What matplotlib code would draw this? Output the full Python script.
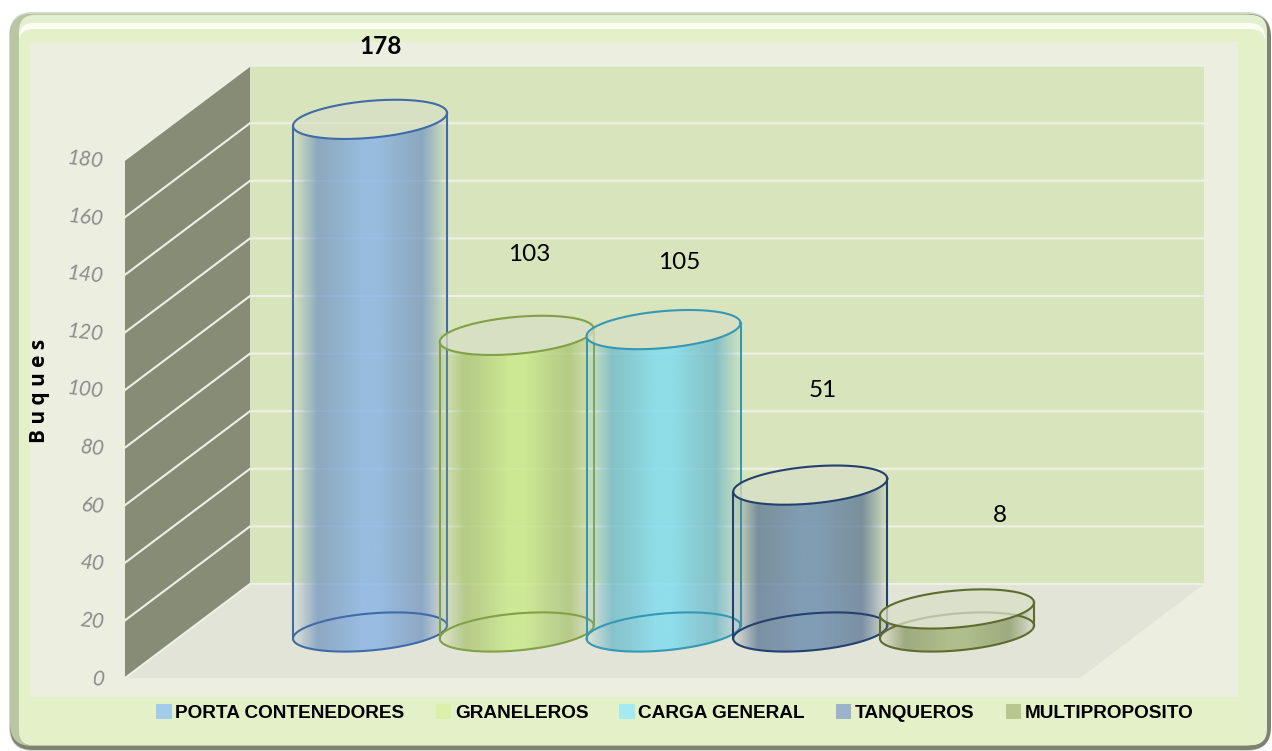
import numpy as np
import matplotlib
matplotlib.use("Agg")
import matplotlib.pyplot as plt
from matplotlib.patches import FancyBboxPatch, Polygon, Rectangle, Patch, PathPatch
from matplotlib.path import Path
from matplotlib.colors import to_rgb

# ---------- data ----------
categories = ["PORTA CONTENEDORES", "GRANELEROS", "CARGA GENERAL", "TANQUEROS", "MULTIPROPOSITO"]
values = [178, 103, 105, 51, 8]
label_bold = [True, False, False, False, False]
y_ticks = [0, 20, 40, 60, 80, 100, 120, 140, 160, 180]

# ---------- styles ----------
body_colors = ["#8CB5E5", "#CAE98B", "#82DCF0", "#7090B0", "#A6B87C"]
line_colors = ["#3F6CA8", "#82A045", "#3598B4", "#24406E", "#5E6B2E"]
legend_colors = ["#A3CBEA", "#DDF0A8", "#A3EAF2", "#9DB2CB", "#B7C78F"]
label_offsets = [(11, 73), (12, 81), (16, 67), (13, 95), (43, 93)]

W, H = 1272, 751
PX_PER_UNIT = 2.88
fig = plt.figure(figsize=(W / 100, H / 100), dpi=100, facecolor="white")


def fig_rect(x0, y_top, x1, y_bottom):
    return [x0 / W, 1 - y_bottom / H, (x1 - x0) / W, (y_bottom - y_top) / H]


# ---------- frame and walls (pixel-space axes) ----------
bg = fig.add_axes([0, 0, 1, 1], zorder=0)
bg.set_xlim(0, W)
bg.set_ylim(H, 0)
bg.axis("off")


def rrect(x0, y0, x1, y1, r, color, z):
    bg.add_patch(FancyBboxPatch((x0 + r, y0 + r), x1 - x0 - 2 * r, y1 - y0 - 2 * r,
                                boxstyle=f"round,pad={r},rounding_size={r}",
                                fc=color, ec="none", zorder=z))


rrect(9, 12, 1271, 751, 24, "#D5D8CC", 1)
rrect(10, 14, 1271, 750, 23, "#7E8272", 1.1)
rrect(10, 14, 1267, 746, 22, "#BAC5A2", 1.2)
rrect(19, 15, 1267, 745, 16, "#E4EFD0", 1.3)
rrect(19, 23, 1265, 745, 15, "#FBFDF3", 1.4)
rrect(19, 29, 1265, 745, 14, "#E3F0C8", 1.5)

bg.add_patch(Rectangle((30, 42), 1208, 655, fc="#ECEFDF", ec="none", zorder=2))
BACK_L, BACK_R, BACK_FLOOR = 250, 1204, 584
FRONT_L, FRONT_R, FRONT_FLOOR = 125, 1080, 678
DEPTH_DY = FRONT_FLOOR - BACK_FLOOR
BACK_TOP = BACK_FLOOR - 180 * PX_PER_UNIT
bg.add_patch(Rectangle((BACK_L, BACK_TOP), BACK_R - BACK_L, BACK_FLOOR - BACK_TOP,
                       fc="#D8E4BC", ec="none", zorder=3))
bg.add_patch(Polygon([(BACK_L, BACK_FLOOR), (BACK_R, BACK_FLOOR), (FRONT_R, FRONT_FLOOR), (FRONT_L, FRONT_FLOOR)],
                     fc="#E1E4D6", ec="none", zorder=3))
bg.add_patch(Polygon([(FRONT_L, BACK_TOP + DEPTH_DY), (BACK_L, BACK_TOP), (BACK_L, BACK_FLOOR), (FRONT_L, FRONT_FLOOR)],
                     fc="#878C76", ec="none", zorder=3))
for tick in y_ticks:
    yb = BACK_FLOOR - tick * PX_PER_UNIT
    bg.plot([FRONT_L, BACK_L, BACK_R], [yb + DEPTH_DY, yb, yb], color="#EEF0E6", lw=1.5,
            zorder=4, solid_joinstyle="miter")

# ---------- value axis ----------
yax = fig.add_axes(fig_rect(FRONT_L, 162, FRONT_L + 10, 680), zorder=1, facecolor="none")
yax.set_xlim(0, 1)
yax.set_ylim(0, 180)
for s in yax.spines.values():
    s.set_visible(False)
yax.set_xticks([])
yax.set_yticks(y_ticks)
yax.tick_params(axis="y", length=0, pad=15)
for lab in yax.get_yticklabels():
    lab.set(rotation=-6, fontstyle="italic", color="#8C8C8C", fontsize=15, family="Lato",
            rotation_mode="anchor", ha="right", va="center")
fig.text(39 / W, 1 - 391 / H, "B u q u e s", rotation=90, ha="center", va="center",
         fontsize=15, fontweight="bold", color="black", family="Open Sans")

# ---------- cylinders ----------
C0, STEP, BASE = 370, 146.75, 632
XMIN, XMAX, YMIN, YMAX = -0.6, 4.6, -15, 195
ax = fig.add_axes(fig_rect(C0 + XMIN * STEP, BASE - YMAX * PX_PER_UNIT, C0 + XMAX * STEP, BASE - YMIN * PX_PER_UNIT),
                  zorder=2, facecolor="none")
ax.axis("off")

HALF_W = 77 / STEP
MINOR = 18.5 / PX_PER_UNIT
TILT = 6.5 / PX_PER_UNIT
t = np.linspace(0, 2 * np.pi, 181)


def ellipse(cx, level):
    return cx + HALF_W * np.cos(t), level + TILT * np.cos(t) + MINOR * np.sin(t)


def shade(color):
    base = np.array(to_rgb(color))
    dark = base * 0.84
    pos = np.array([0, .05, .16, .30, .44, .56, .70, .84, .95, 1])
    alpha = np.array([.05, .25, .78, .8, .85, .85, .8, .78, .3, .05])
    mix = np.array([1, 1, 1, .55, 0, 0, .55, 1, 1, 1])
    xs = np.linspace(0, 1, 200)
    a = np.interp(xs, pos, alpha)
    m = np.interp(xs, pos, mix)[:, None]
    rgb = np.clip(base * (1 - m) + dark * m, 0, 1)
    return np.dstack([rgb[None, :, :], a[None, :, None]])


for i, (v, bc, lc) in enumerate(zip(values, body_colors, line_colors)):
    # body outline: front of the bottom ellipse, then back along the front of the top ellipse
    th = np.linspace(np.pi, 0, 91)
    xa = i + HALF_W * np.cos(th)
    low = TILT * np.cos(th) - MINOR * np.sin(th)
    bx = np.r_[xa, xa[::-1]]
    by = np.r_[low, v + low[::-1]]
    clip = PathPatch(Path(np.c_[bx, by]), transform=ax.transData, fc="none", ec="none")
    ax.add_patch(clip)
    im = ax.imshow(shade(bc), extent=(i - HALF_W, i + HALF_W, -MINOR - TILT, v + MINOR + TILT),
                   aspect="auto", interpolation="bilinear", zorder=3 + i * 0.1)
    im.set_clip_path(clip)
    z = 3.05 + i * 0.1
    ex, ey = ellipse(i, 0)
    ax.plot(ex, ey, color=lc, lw=1.5, zorder=z)
    ax.plot([i - HALF_W, i - HALF_W], [-TILT, v - TILT], color=lc, lw=1.5, zorder=z)
    ax.plot([i + HALF_W, i + HALF_W], [TILT, v + TILT], color=lc, lw=1.5, zorder=z)
    ex, ey = ellipse(i, v)
    ax.fill(ex, ey, fc="#D8DFC6", alpha=0.75, ec="none", zorder=z + 0.01)
    ax.plot(ex, ey, color=lc, lw=1.5, zorder=z + 0.02)
    ax.annotate(str(v), xy=(i, v), xytext=label_offsets[i], textcoords="offset pixels",
                ha="center", va="center", fontsize=17.5, family="Lato",
                fontweight="bold" if label_bold[i] else "normal", color="black",
                annotation_clip=False, zorder=6)

ax.set_xlim(XMIN, XMAX)
ax.set_ylim(YMIN, YMAX)

# ---------- legend ----------
handles = [Patch(fc=c, ec="none") for c in legend_colors]
leg = fig.legend(handles, categories, ncol=5, loc="center", bbox_to_anchor=(675 / W, 1 - 713 / H),
                 frameon=False, handlelength=0.8, handleheight=0.8, handletextpad=0.2,
                 columnspacing=1.63, borderpad=0, borderaxespad=0,
                 prop={"family": "Liberation Sans", "weight": "bold", "size": 13.7})

fig.savefig("out.png", dpi=100)
